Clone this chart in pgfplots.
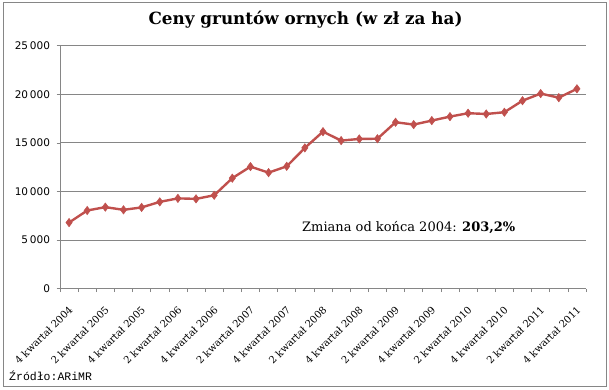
\documentclass[border=0pt]{standalone}
\usepackage{pgfplots}
\pgfplotsset{compat=1.18}
\usepackage{fontspec}
\setmainfont{DejaVu Serif}
\newfontfamily\ticksfont{DejaVu Sans}
\newfontfamily\srcfont{Liberation Mono}
\definecolor{linered}{HTML}{C0504D}
\definecolor{gridgray}{HTML}{868686}
\begin{document}
\begin{tikzpicture}[x=1pt,y=1pt]
\useasboundingbox (0,0) rectangle (609,389);
\draw[gridgray, line width=1pt] (3,3) rectangle (606,386);
\node[font=\fontsize{16.8}{19}\selectfont\bfseries] at (305.5,369) {Ceny gruntów ornych (w zł za ha)};
\begin{axis}[
  at={(60pt,100.5pt)}, anchor=south west,
  scale only axis, width=526pt, height=242.8pt,
  xmin=-0.5, xmax=28.5, ymin=0, ymax=25000,
  axis lines*=left,
  axis line style={gridgray, line width=0.8pt},
  ytick={0,5000,10000,15000,20000,25000},
  ymajorgrids, grid style={gridgray, line width=0.8pt},
  tick align=outside,
  tick style={gridgray, line width=0.6pt},
  major tick length=3.5pt,
  /pgf/number format/assume math mode=true,
  /pgf/number format/1000 sep={\,},
  scaled y ticks=false,
  yticklabel style={font=\ticksfont\fontsize{10.5}{12}\selectfont, xshift=-3pt},
  xtick={-0.5,0.5,...,28.5},
  xticklabels={},
  extra x ticks={0,2,...,28},
  extra x tick labels={4 kwartał 2004,2 kwartał 2005,4 kwartał 2005,2 kwartał 2006,4 kwartał 2006,2 kwartał 2007,4 kwartał 2007,2 kwartał 2008,4 kwartał 2008,2 kwartał 2009,4 kwartał 2009,2 kwartał 2010,4 kwartał 2010,2 kwartał 2011,4 kwartał 2011},
  extra x tick style={major tick length=0pt, grid=none,
     xticklabel style={xshift=-1pt, yshift=-15pt, rotate=45, anchor=north east, font=\fontsize{10}{12}\selectfont, inner sep=1pt}},
  clip=false,
]
\addplot[color=linered, line width=2.4pt, mark=diamond*, mark size=4.2pt, mark options={fill=linered, draw=linered, line width=0.5pt}]
coordinates {
(0,6790) (1,8030) (2,8380) (3,8100) (4,8350) (5,8920) (6,9280) (7,9230) (8,9600)
(9,11360) (10,12550) (11,11930) (12,12580) (13,14480) (14,16150) (15,15230)
(16,15400) (17,15420) (18,17120) (19,16880) (20,17290) (21,17700) (22,18050)
(23,17970) (24,18150) (25,19340) (26,20070) (27,19650) (28,20560)
};
\end{axis}
\node[anchor=west, font=\fontsize{13}{15}\selectfont, inner sep=0pt] at (302,161) {Zmiana od końca 2004: \textbf{203,2\%}};
\node[anchor=base west, font=\srcfont\fontsize{11.5}{12}\selectfont, inner sep=0pt] at (9,9) {Źródło:ARiMR};
\end{tikzpicture}
\end{document}
